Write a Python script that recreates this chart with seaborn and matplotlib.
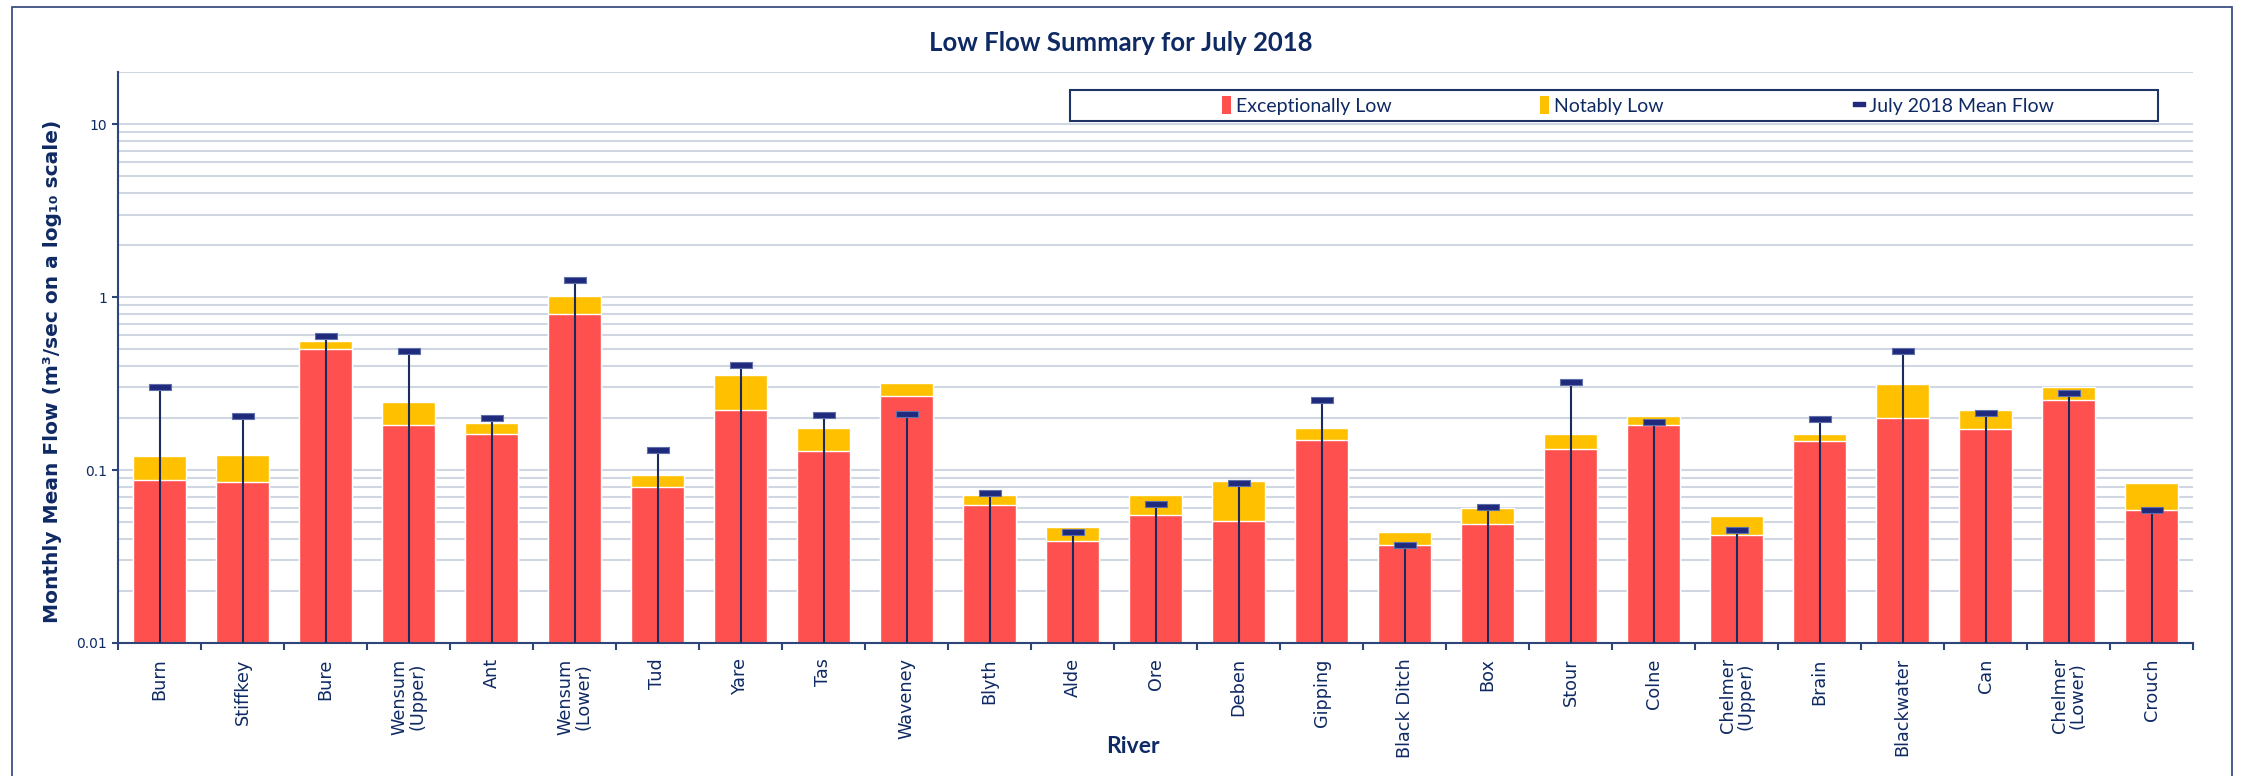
import numpy as np
import pandas as pd
import matplotlib
matplotlib.use("Agg")
import matplotlib.pyplot as plt
from matplotlib.path import Path
from matplotlib.lines import Line2D
from matplotlib.patches import Patch, Rectangle
from matplotlib.ticker import LogLocator, NullFormatter
import seaborn as sns

# --- data ---
rivers = ["Burn", "Stiffkey", "Bure", "Wensum\n(Upper)", "Ant", "Wensum\n(Lower)",
          "Tud", "Yare", "Tas", "Waveney", "Blyth", "Alde", "Ore", "Deben",
          "Gipping", "Black Ditch", "Box", "Stour", "Colne", "Chelmer\n(Upper)",
          "Brain", "Blackwater", "Can", "Chelmer\n(Lower)", "Crouch"]
exceptionally_low = [0.088, 0.085, 0.50, 0.181, 0.162, 0.80, 0.080, 0.223, 0.128, 0.268,
                     0.063, 0.039, 0.055, 0.051, 0.150, 0.037, 0.049, 0.132, 0.183, 0.042,
                     0.147, 0.201, 0.172, 0.255, 0.059]
notably_low = [0.121, 0.122, 0.558, 0.246, 0.186, 1.01, 0.0935, 0.356, 0.176, 0.317,
               0.072, 0.047, 0.072, 0.086, 0.176, 0.044, 0.060, 0.161, 0.205, 0.054,
               0.162, 0.315, 0.222, 0.301, 0.084]
mean_flow = [0.301, 0.204, 0.594, 0.487, 0.201, 1.25, 0.131, 0.404, 0.208, 0.210,
             0.074, 0.044, 0.064, 0.084, 0.254, 0.037, 0.061, 0.322, 0.190, 0.045,
             0.196, 0.49, 0.213, 0.280, 0.059]
y_ticks = [0.01, 0.1, 1, 10]
y_tick_labels = ["0.01", "0.1", "1", "10"]
legend_labels = ["Exceptionally Low", "Notably Low", "July 2018 Mean Flow"]

df = pd.DataFrame({"river": rivers, "exc": exceptionally_low,
                   "notab": notably_low, "mean": mean_flow})

RED = "#ff5050"
YELLOW = "#ffc000"
NAVY = "#1f2a7c"
TEXT = "#0f2a63"
AXIS = "#2e4577"
GRID = "#d0d7e3"

sns.set_style("white")
plt.rcParams["font.family"] = ["DejaVu Sans"]

W, H = 2246, 776
fig = plt.figure(figsize=(W / 100, H / 100), dpi=100)
ax = fig.add_axes([118 / W, 1 - 643 / H, (2193 - 118) / W, (643 - 72) / H])
ax.set_yscale("log")

sns.barplot(data=df, x="river", y="notab", color=YELLOW, saturation=1,
            width=0.65, errorbar=None, ax=ax, zorder=2)
sns.barplot(data=df, x="river", y="exc", color=RED, saturation=1,
            width=0.65, errorbar=None, ax=ax, zorder=2)

# mean flow: line from the base up to a dash marker
dash = Path([(-1, -0.27), (1, -0.27), (1, 0.27), (-1, 0.27), (-1, -0.27)],
            [Path.MOVETO, Path.LINETO, Path.LINETO, Path.LINETO, Path.CLOSEPOLY])
pos = np.arange(len(df))
ax.vlines(pos, 0.01, df["mean"], color="#1c2b5e", lw=1.5, zorder=3)
ax.plot(pos, df["mean"], ls="none", marker=dash, markersize=16,
        markerfacecolor=NAVY, markeredgecolor="#6070aa", markeredgewidth=0.8, zorder=4)

ax.set_ylim(0.01, 20)
ax.set_xlim(-0.5, len(df) - 0.5)

# axes styling
for s in ["top", "right"]:
    ax.spines[s].set_visible(False)
for s in ["left", "bottom"]:
    ax.spines[s].set_color(AXIS)
    ax.spines[s].set_linewidth(1.5)

ax.set_yticks(y_ticks, labels=y_tick_labels)
ax.yaxis.set_minor_locator(LogLocator(base=10, subs=np.arange(2, 10), numticks=30))
ax.yaxis.set_minor_formatter(NullFormatter())
ax.grid(True, axis="y", which="both", color=GRID, lw=1.5)
ax.grid(False, axis="x")
ax.set_axisbelow(True)
ax.tick_params(axis="y", which="major", length=4, width=1.5, color=AXIS,
               labelsize=10, labelcolor=TEXT, pad=4, left=True)
ax.tick_params(axis="y", which="minor", length=0)

ax.set_xticks(pos, labels=rivers)
ax.set_xticks(np.arange(len(df) + 1) - 0.5, minor=True)
ax.tick_params(axis="x", which="major", length=0, labelsize=12.7, labelcolor=TEXT,
               pad=11, labelrotation=90)
ax.tick_params(axis="x", which="minor", length=5, width=1.5, color=AXIS, bottom=True)
for lab in ax.get_xticklabels():
    lab.set_multialignment("center")
    lab.set_linespacing(1.0)

ax.set_ylabel("Monthly Mean Flow (m³/sec on a log₁₀ scale)", fontsize=14.5,
              fontweight="bold", color=TEXT)
ax.yaxis.set_label_coords(-0.027, 0.475)
ax.set_xlabel("River", fontsize=16.5, fontweight="bold", color=TEXT,
              family=["Lato", "DejaVu Sans"], va="center")
ax.xaxis.set_label_coords(0.489, -0.182)

fig.text(1121 / W, 1 - 43 / H, "Low Flow Summary for July 2018", ha="center", va="center",
         fontsize=18.5, fontweight="bold", color=TEXT, family=["Lato", "DejaVu Sans"])

# legend: framed box plus one frameless entry per slot, evenly spread like Excel
fig.add_artist(Rectangle((1070 / W, 1 - 121 / H), (2158 - 1070) / W, 31 / H,
                         transform=fig.transFigure, facecolor="white",
                         edgecolor="#1f3366", lw=1.5, zorder=5))
handles = [Patch(facecolor=RED, edgecolor="none"),
           Patch(facecolor=YELLOW, edgecolor="none"),
           Line2D([], [], ls="none", marker=dash, markersize=9,
                  markerfacecolor=NAVY, markeredgecolor=NAVY)]
slot_x = [1222, 1540, 1855]
for h, lab, sx in zip(handles, legend_labels, slot_x):
    leg = fig.legend([h], [lab], loc="center left", bbox_to_anchor=(sx / W, 1 - 105.5 / H),
                     frameon=False, borderpad=0, borderaxespad=0,
                     handlelength=0.45, handleheight=1.0, handletextpad=0.25,
                     prop={"family": ["Lato", "DejaVu Sans"], "size": 14})
    leg.set_zorder(6)
    for t in leg.get_texts():
        t.set_color(TEXT)

# outer chart border
fig.add_artist(Rectangle((12 / W, -0.05), (2232 - 12) / W, 1.05 - 7 / H,
                         transform=fig.transFigure, facecolor="none",
                         edgecolor="#3a4f82", lw=1.3))

fig.savefig("out.png", dpi=100)
